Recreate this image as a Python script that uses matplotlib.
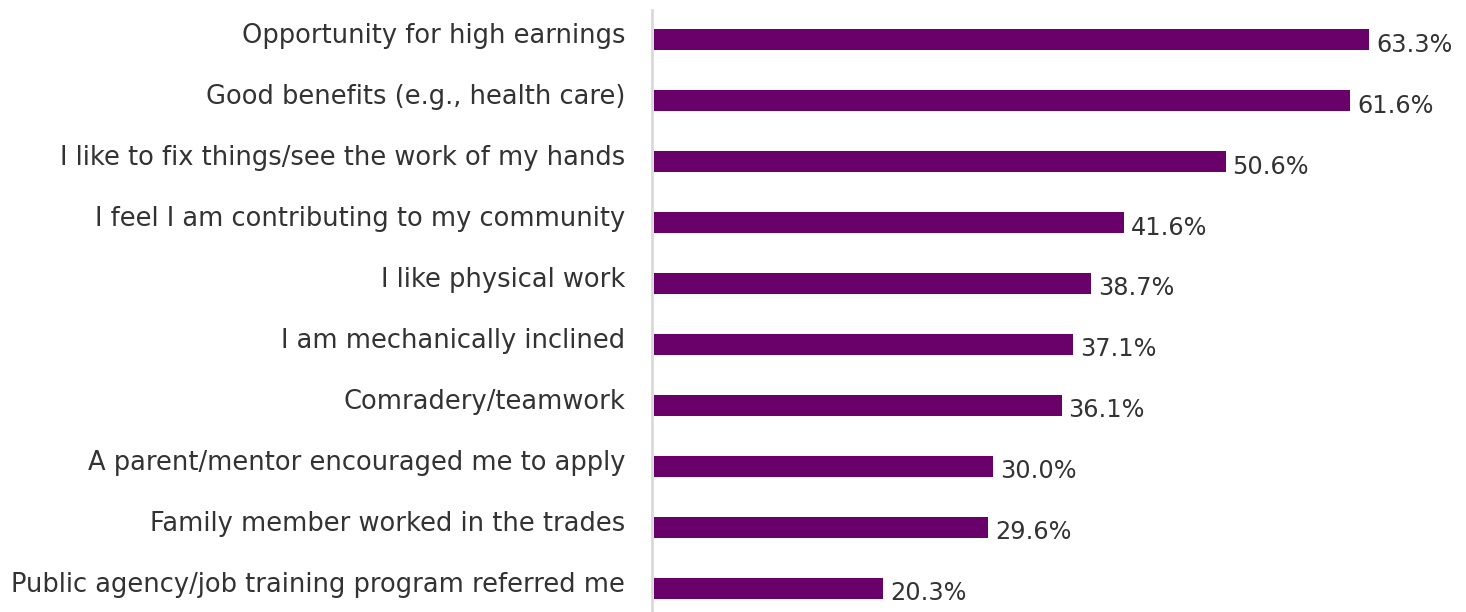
import matplotlib as mpl
mpl.use('Agg')
import matplotlib.pyplot as plt

categories = [
    "Opportunity for high earnings",
    "Good benefits (e.g., health care)",
    "I like to fix things/see the work of my hands",
    "I feel I am contributing to my community",
    "I like physical work",
    "I am mechanically inclined",
    "Comradery/teamwork",
    "A parent/mentor encouraged me to apply",
    "Family member worked in the trades",
    "Public agency/job training program referred me",
]
values = [63.3, 61.6, 50.6, 41.6, 38.7, 37.1, 36.1, 30.0, 29.6, 20.3]

plt.rcParams['font.family'] = ['DejaVu Sans']

fig = plt.figure(figsize=(14.66, 6.12), dpi=100)
ax = fig.add_axes([652/1466, 0, 1 - 652/1466, 1 - 10/612])

pos = list(range(len(categories)))
ax.barh(pos, values, height=0.345, color='#6a006a', left=0.15)

for p, v in zip(pos, values):
    ax.text(v + 0.15 + 0.6, p + 0.08, f"{v:.1f}%", va='center', ha='left',
            fontsize=17.3, color='#333333')

# category labels, a bit above the bar centre like the original
for p, c in zip(pos, categories):
    ax.text(-27/814, p - 0.06, c, transform=ax.get_yaxis_transform(),
            ha='right', va='center', fontsize=18.5, color='#333333')

ax.set_ylim(9.39, -0.49)
ax.set_xlim(0, 72)
ax.set_yticks([])
ax.set_xticks([])
for s in ['top', 'right', 'bottom']:
    ax.spines[s].set_visible(False)
ax.spines['left'].set_color('#d9d9d9')
ax.spines['left'].set_linewidth(2)

plt.savefig("out.png", dpi=100)
